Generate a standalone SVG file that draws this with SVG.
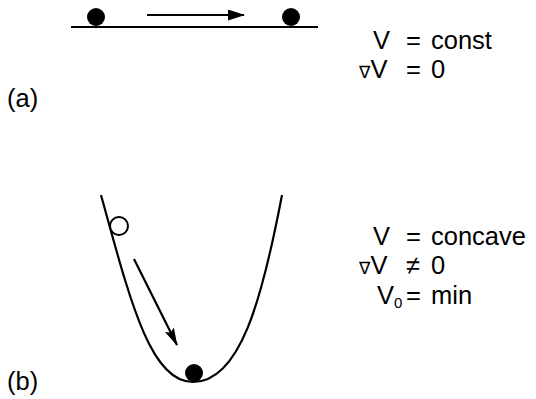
<svg xmlns="http://www.w3.org/2000/svg" width="536" height="399" viewBox="0 0 536 399">
<style>
.t{font-family:"Liberation Sans","DejaVu Sans",Arial,sans-serif;font-size:25.5px;fill:#000}
.ln{fill:none;stroke:#000;stroke-width:2.2}
</style>
<defs>
<marker id="ah" viewBox="0 0 17 11" refX="16" refY="5.5" markerWidth="17" markerHeight="11" markerUnits="userSpaceOnUse" orient="auto">
<path d="M0,0 L17,5.5 L0,11 Z" fill="#000"/>
</marker>
<marker id="ah2" viewBox="0 0 18 10" refX="17" refY="5" markerWidth="18" markerHeight="10" markerUnits="userSpaceOnUse" orient="auto">
<path d="M0,0 L18,5 L0,10 L3,5 Z" fill="#000"/>
</marker>
</defs>
<g id="surface-a"><line class="ln" x1="71" y1="27" x2="318" y2="27"/></g>
<g id="ball-a1"><circle cx="96" cy="17" r="9" fill="#000"/></g>
<g id="ball-a2"><circle cx="291" cy="17" r="9" fill="#000"/></g>
<g id="well-b"><path class="ln" d="M101,195 C130,300 150,382 193,382 C240,382 262,300 282,195"/></g>
<g id="ball-b-start"><circle cx="119" cy="226" r="9" fill="#fff" stroke="#000" stroke-width="2"/></g>
<g id="ball-b-end"><circle cx="194" cy="373" r="9" fill="#000"/></g>
<g id="connectors">
<line class="ln" x1="147" y1="15" x2="244" y2="15" marker-end="url(#ah)"/>
<line class="ln" x1="134" y1="259" x2="177" y2="345" marker-end="url(#ah2)"/>
</g>
<g id="labels">
<text class="t" x="7" y="107">(a)</text>
<text class="t" x="7" y="390">(b)</text>
<text class="t" x="373" y="49">V</text>
<text class="t" x="406" y="49">=</text>
<text class="t" x="431" y="49">const</text>
<text class="t" x="359" y="78"><tspan font-size="17" font-family="DejaVu Sans, sans-serif">∇</tspan>V</text>
<text class="t" x="406" y="78">=</text>
<text class="t" x="431" y="78">0</text>
<text class="t" x="373" y="245">V</text>
<text class="t" x="406" y="245">=</text>
<text class="t" x="431" y="245">concave</text>
<text class="t" x="359" y="274"><tspan font-size="17" font-family="DejaVu Sans, sans-serif">∇</tspan>V</text>
<text class="t" x="406" y="274">≠</text>
<text class="t" x="431" y="274">0</text>
<text class="t" x="377" y="304">V<tspan font-size="15" dy="4">0</tspan></text>
<text class="t" x="406" y="304">=</text>
<text class="t" x="431" y="304">min</text>
</g>
</svg>
